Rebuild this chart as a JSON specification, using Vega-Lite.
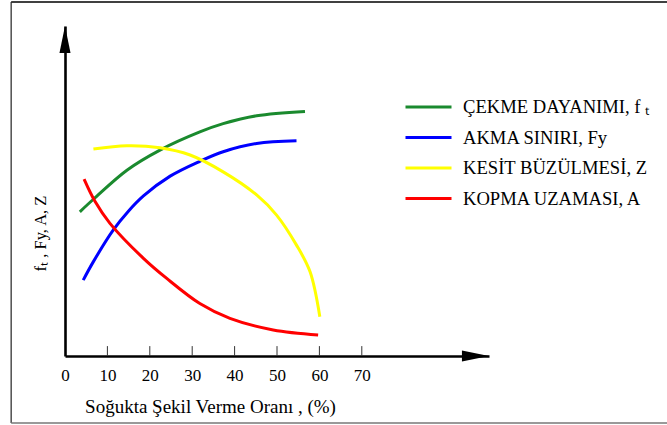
{
  "$schema": "https://vega.github.io/schema/vega-lite/v6.json",
  "autosize": "none",
  "width": 424,
  "height": 330,
  "padding": {"left": 65, "top": 26, "right": 178, "bottom": 69},
  "background": "white",
  "config": {"view": {"stroke": null}, "font": "Liberation Serif"},
  "datasets": {
    "curves": [
      {"series": "ÇEKME DAYANIMI, f ₜ", "x": 3.5, "y": 43.7},
      {"series": "ÇEKME DAYANIMI, f ₜ", "x": 6.7, "y": 47.5},
      {"series": "ÇEKME DAYANIMI, f ₜ", "x": 14.6, "y": 56.3},
      {"series": "ÇEKME DAYANIMI, f ₜ", "x": 22.4, "y": 62.4},
      {"series": "ÇEKME DAYANIMI, f ₜ", "x": 31.8, "y": 67.9},
      {"series": "ÇEKME DAYANIMI, f ₜ", "x": 37.3, "y": 70.4},
      {"series": "ÇEKME DAYANIMI, f ₜ", "x": 45.2, "y": 72.8},
      {"series": "ÇEKME DAYANIMI, f ₜ", "x": 56.6, "y": 74.1},
      {"series": "AKMA SINIRI, Fy", "x": 4.3, "y": 23.0},
      {"series": "AKMA SINIRI, Fy", "x": 6.7, "y": 28.6},
      {"series": "AKMA SINIRI, Fy", "x": 11.4, "y": 38.2},
      {"series": "AKMA SINIRI, Fy", "x": 14.9, "y": 43.8},
      {"series": "AKMA SINIRI, Fy", "x": 18.5, "y": 48.5},
      {"series": "AKMA SINIRI, Fy", "x": 24.8, "y": 54.5},
      {"series": "AKMA SINIRI, Fy", "x": 31.8, "y": 59.0},
      {"series": "AKMA SINIRI, Fy", "x": 37.3, "y": 61.9},
      {"series": "AKMA SINIRI, Fy", "x": 45.2, "y": 64.4},
      {"series": "AKMA SINIRI, Fy", "x": 54.6, "y": 65.2},
      {"series": "KESİT BÜZÜLMESİ, Z", "x": 6.7, "y": 62.7},
      {"series": "KESİT BÜZÜLMESİ, Z", "x": 14.6, "y": 63.7},
      {"series": "KESİT BÜZÜLMESİ, Z", "x": 22.4, "y": 63.1},
      {"series": "KESİT BÜZÜLMESİ, Z", "x": 29.5, "y": 60.9},
      {"series": "KESİT BÜZÜLMESİ, Z", "x": 37.3, "y": 55.8},
      {"series": "KESİT BÜZÜLMESİ, Z", "x": 45.2, "y": 48.8},
      {"series": "KESİT BÜZÜLMESİ, Z", "x": 49.9, "y": 42.7},
      {"series": "KESİT BÜZÜLMESİ, Z", "x": 54.6, "y": 33.6},
      {"series": "KESİT BÜZÜLMESİ, Z", "x": 57.8, "y": 25.5},
      {"series": "KESİT BÜZÜLMESİ, Z", "x": 60.1, "y": 11.9},
      {"series": "KOPMA UZAMASI, A", "x": 4.5, "y": 53.6},
      {"series": "KOPMA UZAMASI, A", "x": 7.1, "y": 46.8},
      {"series": "KOPMA UZAMASI, A", "x": 10.6, "y": 40.2},
      {"series": "KOPMA UZAMASI, A", "x": 18.5, "y": 29.6},
      {"series": "KOPMA UZAMASI, A", "x": 24.0, "y": 23.5},
      {"series": "KOPMA UZAMASI, A", "x": 31.8, "y": 15.9},
      {"series": "KOPMA UZAMASI, A", "x": 38.9, "y": 11.4},
      {"series": "KOPMA UZAMASI, A", "x": 49.1, "y": 7.9},
      {"series": "KOPMA UZAMASI, A", "x": 59.7, "y": 6.4}
    ]
  },
  "layer": [
    {
      "data": {"name": "curves"},
      "mark": {"type": "line", "interpolate": "catmull-rom", "strokeWidth": 3},
      "encoding": {
        "x": {
          "field": "x", "type": "quantitative",
          "scale": {"domain": [0, 100], "nice": false},
          "axis": {
            "values": [0, 10, 20, 30, 40, 50, 60, 70],
            "ticks": false, "grid": false,
            "domainColor": "#000", "domainWidth": 2.6,
            "labelFont": "Liberation Serif", "labelFontSize": 17, "labelColor": "#000",
            "labelPadding": 11, "labelFlush": false,
            "title": "Soğukta Şekil Verme Oranı , (%)",
            "titleFont": "Liberation Serif", "titleFontSize": 19, "titleFontWeight": "normal", "titleColor": "#000",
            "titleAnchor": "middle", "titleAlign": "center", "titleBaseline": "alphabetic",
            "titleX": 145, "titleY": 56
          }
        },
        "y": {
          "field": "y", "type": "quantitative",
          "scale": {"domain": [0, 100], "nice": false},
          "axis": {
            "ticks": false, "labels": false, "grid": false,
            "domainColor": "#000", "domainWidth": 2.6,
            "title": "fₜ , Fy, A, Z",
            "titleFont": "Liberation Serif", "titleFontSize": 16.5, "titleFontWeight": "normal", "titleColor": "#000",
            "titleAngle": -90, "titleAlign": "center", "titleBaseline": "alphabetic",
            "titleX": -20, "titleY": 207
          }
        },
        "color": {
          "field": "series", "type": "nominal",
          "scale": {
            "domain": ["ÇEKME DAYANIMI, f ₜ", "AKMA SINIRI, Fy", "KESİT BÜZÜLMESİ, Z", "KOPMA UZAMASI, A"],
            "range": ["#1a8a2e", "#0000ff", "#ffff00", "#ff0000"]
          },
          "legend": {
            "orient": "none", "legendX": 350.5, "legendY": 68,
            "title": null, "padding": 0,
            "symbolType": "M-2,0L2,0", "symbolSize": 529, "symbolStrokeWidth": 3,
            "labelFont": "Liberation Serif", "labelFontSize": 18.6, "labelOffset": 21.5,
            "labelLimit": 300, "rowPadding": 7.5,
            "encode": {
              "labels": {
                "fill": {
                  "condition": [
                    {"test": "datum.value == 'ÇEKME DAYANIMI, f ₜ'", "value": "#1a8a2e"},
                    {"test": "datum.value == 'AKMA SINIRI, Fy'", "value": "#0000ff"},
                    {"test": "datum.value == 'KESİT BÜZÜLMESİ, Z'", "value": "#ffff00"}
                  ],
                  "value": "#ff0000"
                }
              }
            }
          }
        }
      }
    },
    {
      "data": {"values": [{"x": -12.7, "x2": 200, "y": 107.3}]},
      "mark": {"type": "rule", "color": "#000", "strokeWidth": 1.5},
      "encoding": {
        "x": {"field": "x", "type": "quantitative", "scale": {"domain": [0, 100], "nice": false}},
        "x2": {"field": "x2"},
        "y": {"field": "y", "type": "quantitative", "scale": {"domain": [0, 100], "nice": false}}
      }
    },
    {
      "data": {"values": [{"x": -12.7, "y": 107.3, "y2": -20.3}]},
      "mark": {"type": "rule", "color": "#222", "strokeWidth": 1.2},
      "encoding": {
        "x": {"field": "x", "type": "quantitative", "scale": {"domain": [0, 100], "nice": false}},
        "y": {"field": "y", "type": "quantitative", "scale": {"domain": [0, 100], "nice": false}},
        "y2": {"field": "y2"}
      }
    },
    {
      "data": {"values": [{"x": -12.7, "x2": 200, "y": -20.3}]},
      "mark": {"type": "rule", "color": "#777", "strokeWidth": 1.5},
      "encoding": {
        "x": {"field": "x", "type": "quantitative", "scale": {"domain": [0, 100], "nice": false}},
        "x2": {"field": "x2"},
        "y": {"field": "y", "type": "quantitative", "scale": {"domain": [0, 100], "nice": false}}
      }
    },
    {
      "data": {"values": [{"x": 10, "y": 0, "y2": 3}, {"x": 20, "y": 0, "y2": 3}, {"x": 30, "y": 0, "y2": 3}, {"x": 40, "y": 0, "y2": 3}, {"x": 50, "y": 0, "y2": 3}, {"x": 60, "y": 0, "y2": 3}, {"x": 70, "y": 0, "y2": 3}]},
      "mark": {"type": "rule", "color": "#333", "strokeWidth": 1},
      "encoding": {
        "x": {"field": "x", "type": "quantitative", "scale": {"domain": [0, 100], "nice": false}},
        "y": {"field": "y", "type": "quantitative", "scale": {"domain": [0, 100], "nice": false}},
        "y2": {"field": "y2"}
      }
    },
    {
      "data": {"values": [{"x": 96.8, "y": 0}]},
      "mark": {"type": "point", "shape": "M-1,-0.41L1,0L-1,0.41Z", "size": 729, "filled": true, "color": "#000", "opacity": 1},
      "encoding": {
        "x": {"field": "x", "type": "quantitative", "scale": {"domain": [0, 100], "nice": false}},
        "y": {"field": "y", "type": "quantitative", "scale": {"domain": [0, 100], "nice": false}}
      }
    },
    {
      "data": {"values": [{"x": 0, "y": 95.9}]},
      "mark": {"type": "point", "shape": "M-0.41,1L0,-1L0.41,1Z", "size": 729, "filled": true, "color": "#000", "opacity": 1},
      "encoding": {
        "x": {"field": "x", "type": "quantitative", "scale": {"domain": [0, 100], "nice": false}},
        "y": {"field": "y", "type": "quantitative", "scale": {"domain": [0, 100], "nice": false}}
      }
    }
  ]
}
